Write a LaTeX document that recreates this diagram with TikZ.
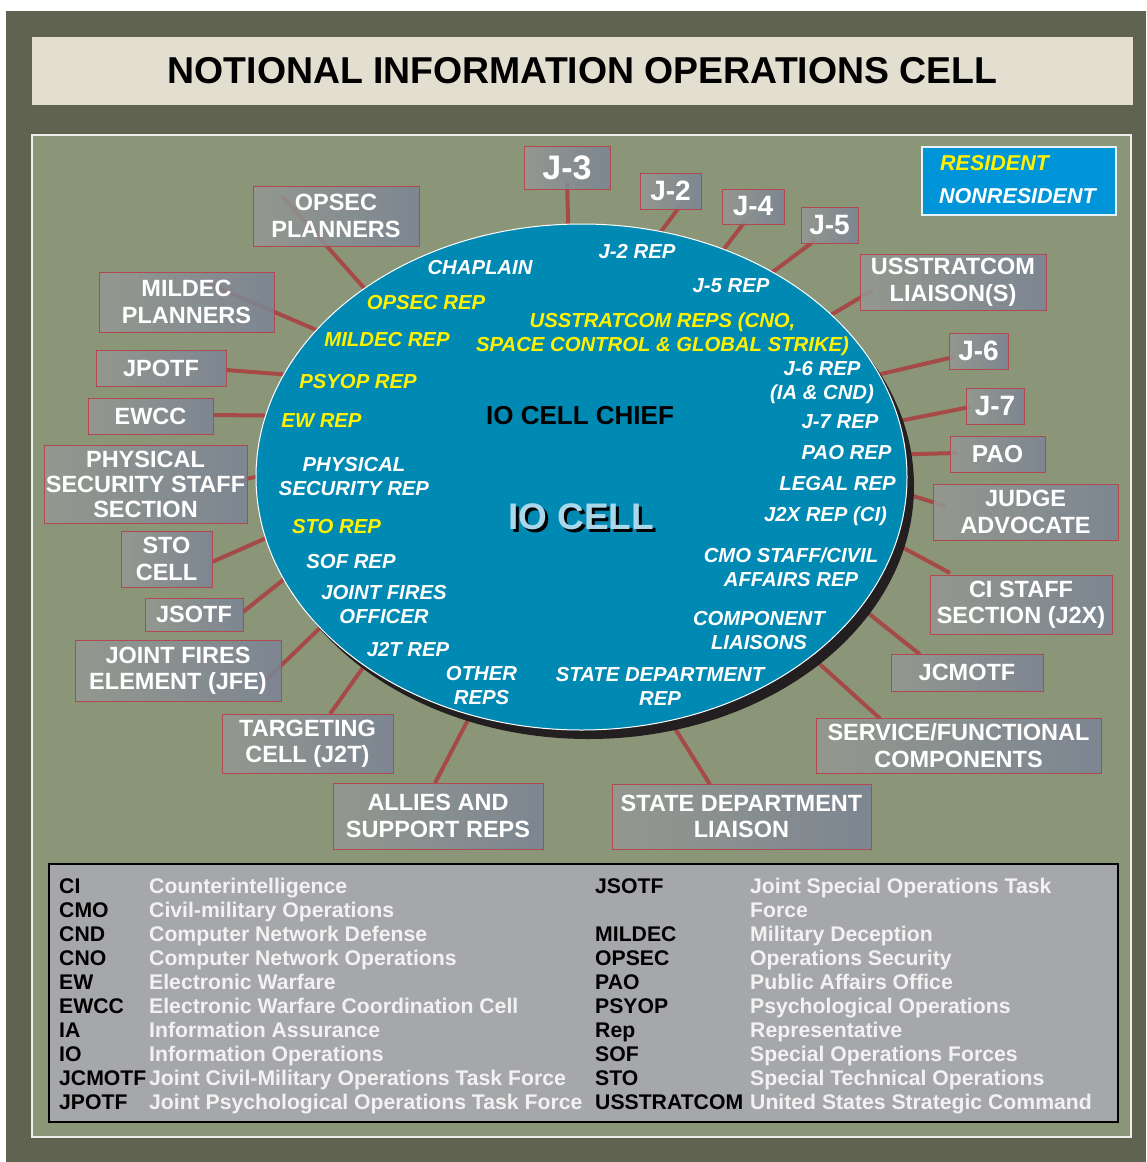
\documentclass[tikz,border=0pt]{standalone}
\usepackage{fontspec}
\setmainfont{Liberation Sans}
\usetikzlibrary{shapes.geometric,calc}
\pgfdeclarelayer{back}
\pgfdeclarelayer{wires}
\pgfsetlayers{back,wires,main}
\definecolor{frameC}{HTML}{5F6350}
\definecolor{panelC}{HTML}{8A9677}
\definecolor{titleC}{HTML}{E2DFD0}
\definecolor{cellC}{HTML}{0089B3}
\definecolor{wireC}{HTML}{A64A48}
\definecolor{edgeC}{HTML}{B04A50}
\definecolor{boxL}{HTML}{959893}
\definecolor{boxR}{HTML}{7B8496}
\definecolor{yelC}{HTML}{FFF200}
\definecolor{keyC}{HTML}{0095D9}
\definecolor{legC}{HTML}{A6A7AA}
\definecolor{ioC}{HTML}{A8D8EA}
\definecolor{shadC}{HTML}{231F20}
\newcommand\boxfont{\fontsize{23.5}{26.5}\selectfont\bfseries}
\newcommand\jfont{\fontsize{28}{30}\selectfont\bfseries}
\newcommand\cellfont{\fontsize{20.3}{24}\selectfont\bfseries\itshape}
\newcommand\legfont{\fontsize{21.2}{24}\selectfont\bfseries}
\newcommand\iowire[4]{%
  \coordinate (#1-w) at ($(#1.center)+(#2,#3)$);
  \draw[conn] (#1-w) -- ($(cell.#4)!-8pt!(#1-w)$);}
\begin{document}
\begin{tikzpicture}[x=1pt,y=-1pt,
  org/.style={draw=edgeC, line width=0.9pt, left color=boxL, right color=boxR,
    fill opacity=0.85, text opacity=1, text=white, font=\boxfont,
    align=center, inner sep=0pt},
  conn/.style={draw=wireC, line width=4pt},
  wtxt/.style={text=white, font=\cellfont, align=center, inner sep=0pt},
  ytxt/.style={text=yelC, font=\cellfont, align=center, inner sep=0pt},
  legab/.style={text=black, font=\legfont, inner sep=0pt, anchor=base west},
  legdef/.style={text=white!95!black, font=\legfont, inner sep=0pt, anchor=base west}]
\useasboundingbox (0,0) rectangle (1146,1162);
\begin{pgfonlayer}{back}
\fill[white] (0,0) rectangle (1146,1162);
\fill[frameC] (6,11) rectangle (1146,1162);
\node[fill=titleC, minimum width=1101pt, minimum height=68pt, inner sep=0pt,
  font=\fontsize{37.4}{40}\selectfont\bfseries] (title) at (582.5,71)
  {NOTIONAL INFORMATION OPERATIONS CELL};
\node[fill=panelC, draw=white!85!panelC, line width=1.5pt, minimum width=1099pt,
  minimum height=1002pt, inner sep=0pt] (panel) at (581.5,636) {};
\node[fill=legC, draw=black, line width=1.6pt, minimum width=1069pt,
  minimum height=258pt, inner sep=0pt] (legend) at (583.5,993) {};
\end{pgfonlayer}

% key box
\node[fill=keyC, draw=white!90!keyC, line width=1.2pt, minimum width=194pt,
  minimum height=68pt, inner sep=0pt] (key) at (1019,181) {};
\node[text=yelC, font=\fontsize{21.5}{24}\selectfont\bfseries\itshape, inner sep=0pt,
  anchor=west] (kres) at (940,163) {RESIDENT};
\node[text=white, font=\fontsize{21.5}{24}\selectfont\bfseries\itshape, inner sep=0pt,
  anchor=west] (knon) at (939,196) {NONRESIDENT};

% the cell
\fill[shadC] (588.5,486) ellipse [x radius=325.5pt, y radius=253pt];
\node[ellipse, fill=cellC, draw=white, line width=1pt, minimum width=651pt,
  minimum height=506pt, inner sep=0pt] (cell) at (581.5,477) {};

% boxes
\node[org, minimum width=86pt, minimum height=43pt, font=\fontsize{34}{36}\selectfont\bfseries] (j3) at (567,167.5) {J-3};
\node[org, minimum width=61pt, minimum height=36pt, font=\jfont] (j2) at (670.5,191) {J-2};
\node[org, minimum width=62pt, minimum height=35pt, font=\jfont] (j4) at (753,206.5) {J-4};
\node[org, minimum width=57pt, minimum height=36pt, font=\jfont] (j5) at (829.5,225) {J-5};
\node[org, minimum width=186pt, minimum height=56pt] (usstrat) at (953,282) {USSTRATCOM\\LIAISON(S)};
\node[org, minimum width=59pt, minimum height=36pt, font=\jfont] (j6) at (978.5,351) {J-6};
\node[org, minimum width=58pt, minimum height=36pt, font=\jfont] (j7) at (995,406) {J-7};
\node[org, minimum width=95pt, minimum height=36pt, font=\fontsize{24.5}{26}\selectfont\bfseries] (pao) at (997.5,454) {PAO};
\node[org, minimum width=185pt, minimum height=56pt] (judge) at (1025.5,512) {JUDGE\\ADVOCATE};
\node[org, minimum width=182pt, minimum height=59pt] (ci) at (1021,604.5) {CI STAFF\\SECTION (J2X)};
\node[org, minimum width=152pt, minimum height=37pt] (jcmotf) at (967,672.5) {JCMOTF};
\node[org, minimum width=285pt, minimum height=55pt] (service) at (958.5,745.5) {SERVICE/FUNCTIONAL\\COMPONENTS};
\node[org, minimum width=259pt, minimum height=65pt] (state) at (741.5,816.5) {STATE DEPARTMENT\\LIAISON};
\node[org, minimum width=210pt, minimum height=66pt] (allies) at (438,816) {ALLIES AND\\SUPPORT REPS};
\node[org, minimum width=171pt, minimum height=59pt] (target) at (307.5,743.5) {TARGETING\\CELL (J2T)};
\node[org, minimum width=206pt, minimum height=61pt] (jfe) at (178,670.5) {JOINT FIRES\\ELEMENT (JFE)};
\node[org, minimum width=98pt, minimum height=33pt] (jsotf) at (194,614.5) {JSOTF};
\node[org, minimum width=91pt, minimum height=56pt] (sto) at (166.5,559) {STO\\CELL};
\node[org, minimum width=203pt, minimum height=78pt, font=\fontsize{23.5}{25}\selectfont\bfseries] (phys) at (145.5,484) {PHYSICAL\\SECURITY STAFF\\SECTION};
\node[org, minimum width=125pt, minimum height=36pt] (ewcc) at (150.5,416) {EWCC};
\node[org, minimum width=130pt, minimum height=36pt] (jpotf) at (161,368) {JPOTF};
\node[org, minimum width=175pt, minimum height=60pt] (mildec) at (186.5,302) {MILDEC\\PLANNERS};
\node[org, minimum width=166pt, minimum height=60pt] (opsec) at (336,216) {OPSEC\\PLANNERS};

% connectors
\begin{pgfonlayer}{wires}
\iowire{j3}{0}{15}{93.3}
\iowire{j2}{9.5}{15}{72.7}
\iowire{j4}{-8}{15}{58.8}
\iowire{j5}{-14}{15}{47.4}
\iowire{usstrat}{-80}{8}{33.6}
\iowire{j6}{-25}{6}{19.2}
\iowire{j7}{-25}{1}{10.6}
\iowire{pao}{-40}{-1}{4.4}
\iowire{judge}{-80}{-6}{357.2}
\iowire{ci}{-71}{-31.5}{348.7}
\iowire{jcmotf}{-47}{-18}{335.5}
\iowire{service}{-78.5}{-27}{322.7}
\iowire{state}{-31.5}{-32}{290}
\iowire{allies}{-3}{-33}{245.1}
\iowire{target}{22.5}{-29.5}{221.7}
\iowire{jfe}{84}{13.5}{210.9}
\iowire{jsotf}{49}{-2.5}{199.3}
\iowire{sto}{45.5}{3}{191.6}
\iowire{phys}{94.5}{-4}{180.4}
\iowire{ewcc}{62.5}{-1}{169.9}
\iowire{jpotf}{65}{2}{161.2}
\iowire{mildec}{13.5}{-22}{151.4}
\iowire{opsec}{-54}{-20}{139.2}
\end{pgfonlayer}

% texts in the cell
\node[wtxt] (t1) at (480,268) {CHAPLAIN};
\node[wtxt] (t2) at (637,252) {J-2 REP};
\node[wtxt] (t3) at (731,286) {J-5 REP};
\node[ytxt] (t4) at (426,303) {OPSEC REP};
\node[ytxt] (t5) at (387,340) {MILDEC REP};
\node[ytxt] (t6) at (662.5,334.5) {USSTRATCOM REPS (CNO,\\SPACE CONTROL \& GLOBAL STRIKE)};
\node[ytxt] (t7) at (358,382) {PSYOP REP};
\node[ytxt] (t8) at (321.5,421) {EW REP};
\node[wtxt] (t9) at (822,383) {J-6 REP\\(IA \& CND)};
\node[wtxt] (t10) at (840,422) {J-7 REP};
\node[wtxt] (t11) at (846.5,453) {PAO REP};
\node[wtxt] (t12) at (837.5,483) {LEGAL REP};
\node[wtxt] (t13) at (825.5,516) {J2X REP (CI)};
\node[wtxt] (t14) at (791,567.5) {CMO STAFF/CIVIL\\AFFAIRS REP};
\node[wtxt] (t15) at (759,631) {COMPONENT\\LIAISONS};
\node[wtxt] (t16) at (660,686) {STATE DEPARTMENT\\REP};
\node[wtxt] (t17) at (481.5,686) {OTHER\\REPS};
\node[wtxt] (t18) at (408,650) {J2T REP};
\node[wtxt] (t19) at (384,605) {JOINT FIRES\\OFFICER};
\node[wtxt] (t20) at (351,562) {SOF REP};
\node[ytxt] (t21) at (336.5,527) {STO REP};
\node[wtxt] (t22) at (354,476.5) {PHYSICAL\\SECURITY REP};
\node[text=black, font=\fontsize{26}{28}\selectfont\bfseries, inner sep=0pt] (chief) at (580,416) {IO CELL CHIEF};
\node[font=\fontsize{37}{40}\selectfont\bfseries, inner sep=0pt] (iocell) at (581,518)
  {\makebox[0pt][l]{\hspace{3pt}\raisebox{-3pt}{\color{black}IO CELL}}\color{ioC}IO CELL};

% legend
\foreach \a/\d [count=\i] in {CI/Counterintelligence, CMO/Civil-military Operations,
  CND/Computer Network Defense, CNO/Computer Network Operations, EW/Electronic Warfare,
  EWCC/Electronic Warfare Coordination Cell, IA/Information Assurance,
  IO/Information Operations, JCMOTF/Joint Civil-Military Operations Task Force,
  JPOTF/Joint Psychological Operations Task Force}{
  \node[legab] (la\i) at (59,{869.5+24*\i}) {\a};
  \node[legdef] (ld\i) at (149,{869.5+24*\i}) {\d};
}
\foreach \a/\d [count=\i] in {JSOTF/Joint Special Operations Task, /Force,
  MILDEC/Military Deception, OPSEC/Operations Security, PAO/Public Affairs Office,
  PSYOP/Psychological Operations, Rep/Representative, SOF/Special Operations Forces,
  STO/Special Technical Operations, USSTRATCOM/United States Strategic Command}{
  \node[legab] (ra\i) at (595,{869.5+24*\i}) {\a};
  \node[legdef] (rd\i) at (750,{869.5+24*\i}) {\d};
}
\end{tikzpicture}
\end{document}
